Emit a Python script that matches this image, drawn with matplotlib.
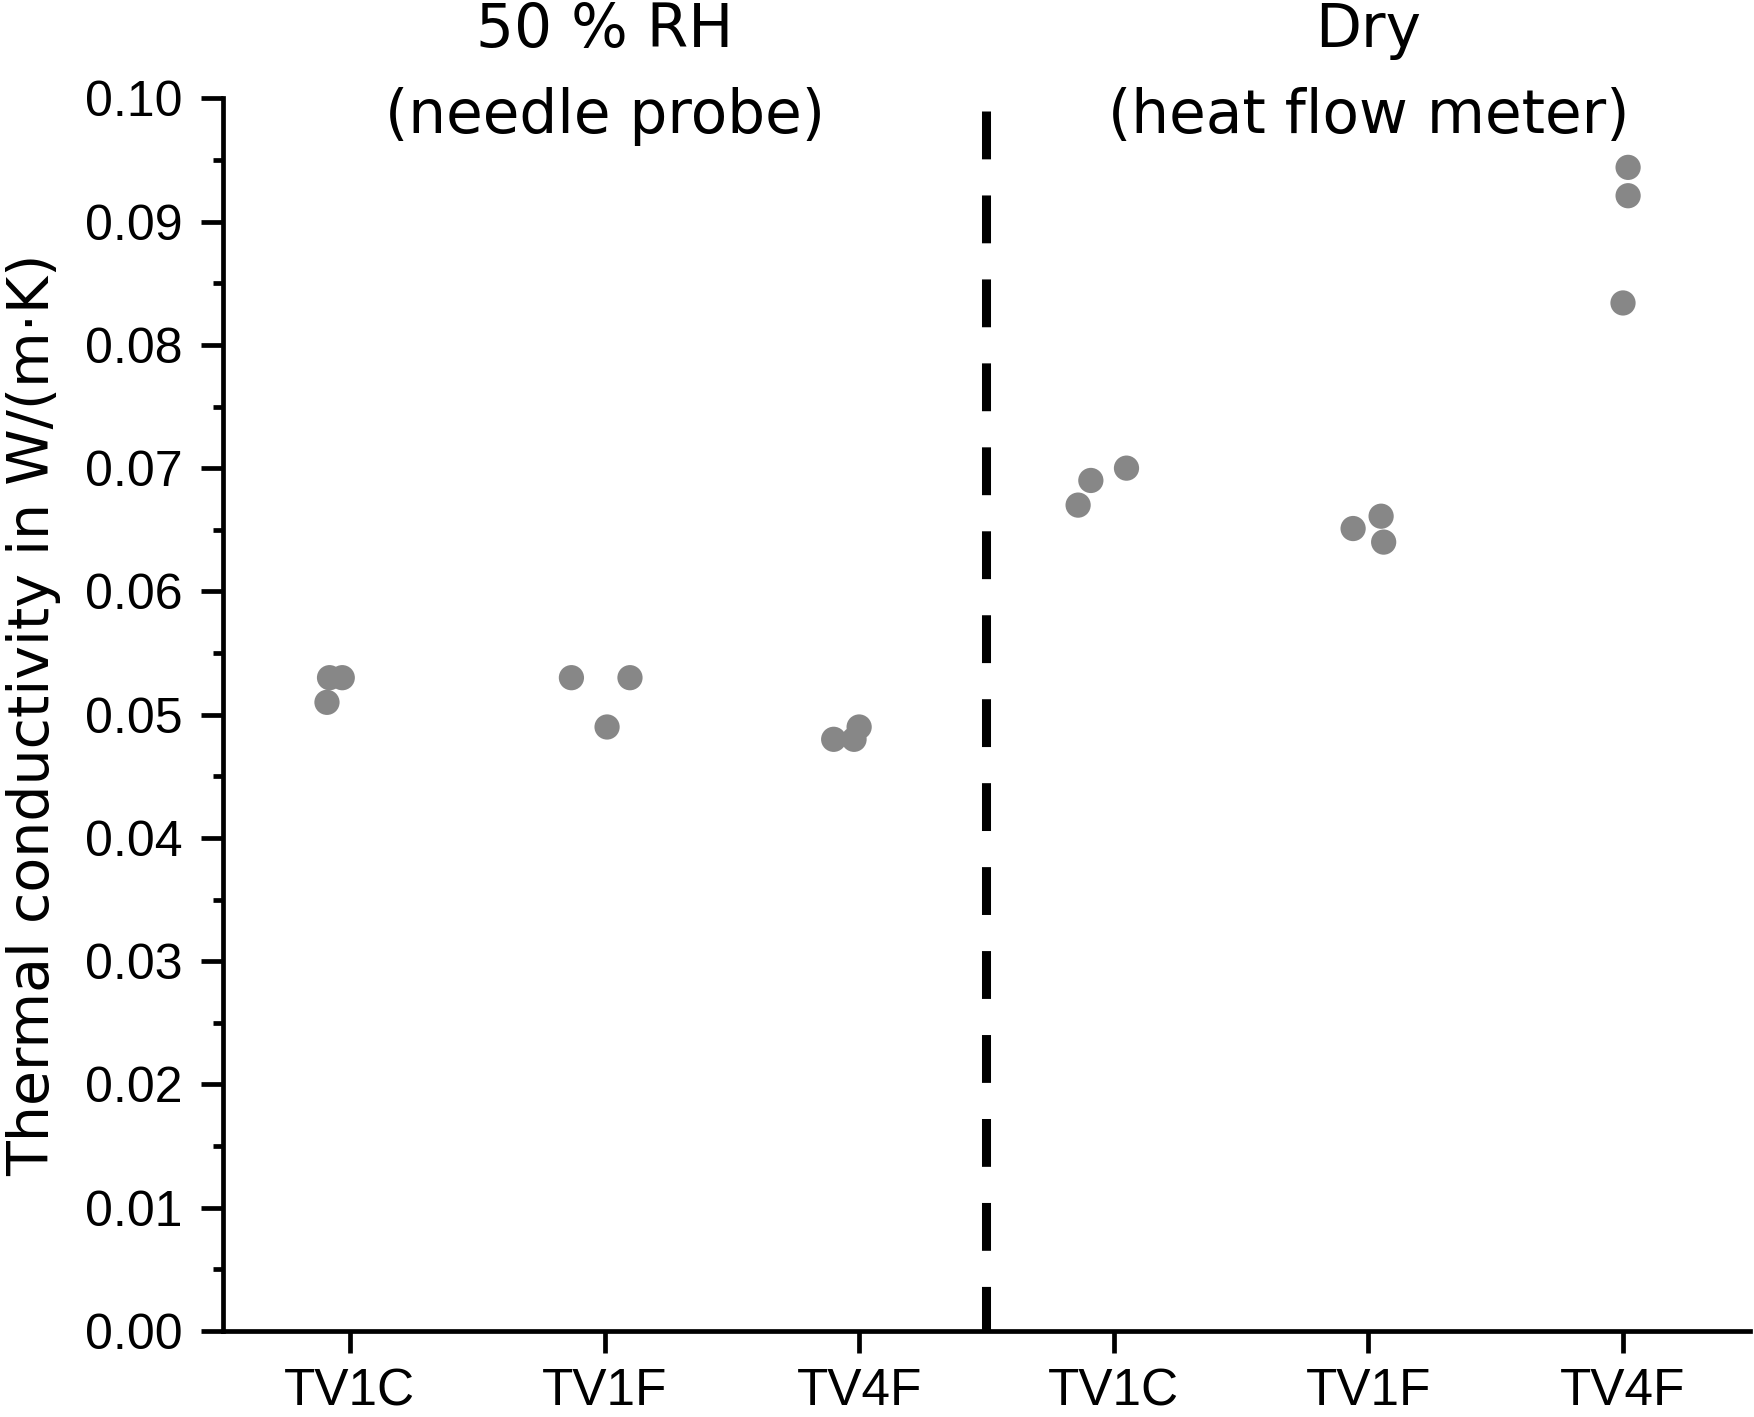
import matplotlib
matplotlib.use("Agg")
import matplotlib.pyplot as plt
import matplotlib.transforms as mtransforms
from matplotlib.ticker import MultipleLocator

# sample names on the x axis (50 % RH group then dry group)
samples = ["TV1C", "TV1F", "TV4F", "TV1C", "TV1F", "TV4F"]

rh50_tv1c = [0.0510, 0.0530, 0.0530]
rh50_tv1f = [0.0530, 0.0490, 0.0530]
rh50_tv4f = [0.0480, 0.0480, 0.0490]
dry_tv1c = [0.0670, 0.0690, 0.0700]
dry_tv1f = [0.0651, 0.0661, 0.0640]
dry_tv4f = [0.0944, 0.0921, 0.0834]

# horizontal jitter of each point around its category
jit_rh50_tv1c = [-0.09, -0.08, -0.03]
jit_rh50_tv1f = [-0.13, 0.01, 0.10]
jit_rh50_tv4f = [-0.10, -0.02, 0.00]
jit_dry_tv1c = [-0.14, -0.09, 0.05]
jit_dry_tv1f = [-0.06, 0.05, 0.06]
jit_dry_tv4f = [0.02, 0.02, 0.00]

groups = [rh50_tv1c, rh50_tv1f, rh50_tv4f, dry_tv1c, dry_tv1f, dry_tv4f]
jitters = [jit_rh50_tv1c, jit_rh50_tv1f, jit_rh50_tv4f, jit_dry_tv1c, jit_dry_tv1f, jit_dry_tv4f]

titles = [("50 % RH", "(needle probe)"), ("Dry", "(heat flow meter)")]

fig = plt.figure(figsize=(17.54, 14.17), dpi=100)
ax = fig.add_axes([0.1269, 0.0607, 0.871, 0.8699])

for i, (vals, jit) in enumerate(zip(groups, jitters)):
    xs = [i + 1 + j for j in jit]
    ax.scatter(xs, vals, s=330, color="#878787", edgecolors="none", zorder=3)

# divider between the two measurement methods
ax.plot([3.5, 3.5], [0.099, 0.0], color="black", lw=6.5,
        linestyle=(0, (5.3, 4.0)), solid_capstyle="butt", clip_on=False, zorder=4)

ax.set_xlim(0.5, 6.5)
ax.set_ylim(0, 0.1)
ax.set_xticks(range(1, 7))
ax.set_xticklabels(samples, fontsize=37, family="Liberation Sans")
ax.yaxis.set_major_locator(MultipleLocator(0.01))
ax.yaxis.set_minor_locator(MultipleLocator(0.005))
ax.set_yticklabels([f"{v:.2f}" for v in ax.get_yticks()], fontsize=36, family="Liberation Sans")

for side in ["top", "right"]:
    ax.spines[side].set_visible(False)
for side in ["left", "bottom"]:
    ax.spines[side].set_linewidth(3.4)

ax.tick_params(axis="y", which="major", length=16, width=3.4, pad=13)
ax.tick_params(axis="y", which="minor", length=7.5, width=3.4)
ax.tick_params(axis="x", which="major", length=16, width=3.4, pad=10)

ax.set_ylabel("Thermal conductivity in W/(m·K)", fontsize=41, family="DejaVu Sans")
ax.yaxis.set_label_coords(-0.106, 0.5)

trans = mtransforms.blended_transform_factory(ax.transData, ax.transAxes)
for xc, (l1, l2) in zip([2, 5], titles):
    ax.text(xc, 1.0414, l1, transform=trans, ha="center", va="baseline",
            fontsize=43, family="DejaVu Sans", clip_on=False)
    ax.text(xc, 0.9716, l2, transform=trans, ha="center", va="baseline",
            fontsize=43, family="DejaVu Sans", clip_on=False)

fig.savefig("out.png", dpi=100)
